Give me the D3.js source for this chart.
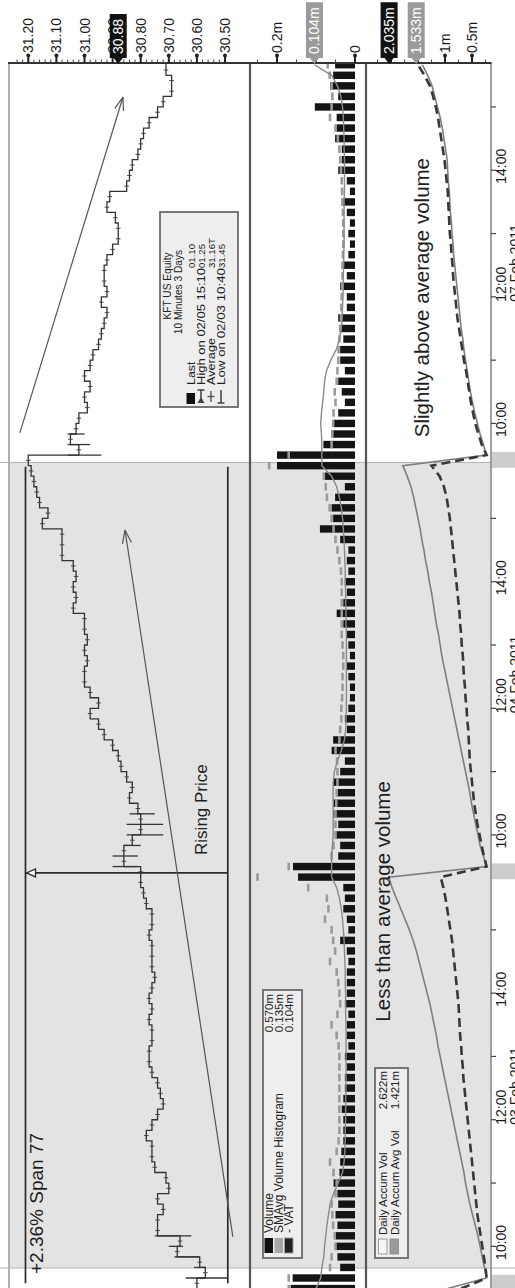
<!DOCTYPE html>
<html>
<head>
<meta charset="utf-8">
<script src="https://cdn.jsdelivr.net/npm/d3@7/dist/d3.min.js"></script>
<style>
html,body{margin:0;padding:0;background:#fff;}
svg{display:block;}
text{font-family:"Liberation Sans", Arial, sans-serif;}
</style>
</head>
<body>
<svg id="chart" width="515" height="1288"></svg>
<script>
// ================= DATA =================
const sessionDays = ["03 Feb 2011", "04 Feb 2011", "07 Feb 2011"];
const barsPerDay = 39;          // 10-minute bars 09:30-16:00
const firstBar = -1;            // first value = last bar of 02 Feb
const hourTicks = ["10:00","11:00","12:00","13:00","14:00","15:00"];
const hourLabels = ["10:00","14:00"];
const dateHour = "12:00";

const priceClose = [30.60,
 30.57,30.59,30.67,30.66,30.74,30.74,30.72,30.74,30.70,30.71,
 30.75,30.76,30.76,30.78,30.76,30.74,30.72,30.73,30.74,30.76,
 30.77,30.77,30.76,30.76,30.77,30.76,30.77,30.76,30.75,30.76,
 30.76,30.76,30.77,30.76,30.76,30.78,30.79,30.80,30.80,
 30.86,30.86,30.83,30.80,30.80,30.81,30.84,30.83,30.85,30.87,
 30.88,30.90,30.93,30.95,30.98,30.95,30.98,31.00,31.00,30.99,
 31.00,30.99,31.00,31.00,31.04,31.03,31.04,31.03,31.04,31.08,
 31.08,31.08,31.15,31.13,31.16,31.17,31.18,31.19,31.20,
 31.02,31.05,31.03,31.02,30.99,31.00,30.98,31.00,30.98,30.97,
 30.95,30.94,30.93,30.92,30.94,30.92,30.93,30.93,30.92,30.90,
 30.88,30.88,30.89,30.92,30.91,30.85,30.84,30.83,30.81,30.80,
 30.79,30.77,30.74,30.72,30.69,30.69,30.71,30.71];

// [bar, low, high] for bars with a wide range
const priceRanges = [[0,30.49,30.64],[1,30.57,30.61],[2,30.59,30.68],[3,30.65,30.70],[4,30.62,30.75],
 [39,30.81,30.90],[40,30.81,30.90],[41,30.80,30.86],[42,30.72,30.85],[43,30.72,30.85],[44,30.75,30.84],
 [78,30.94,31.06],[79,30.98,31.06],[80,31.00,31.06]];

const volume = [0.165,
 0.160,0.038,0.045,0.050,0.050,0.045,0.050,0.043,0.045,0.055,
 0.040,0.038,0.035,0.030,0.030,0.030,0.034,0.030,0.026,0.026,
 0.021,0.026,0.017,0.021,0.021,0.017,0.026,0.021,0.021,0.021,
 0.017,0.021,0.038,0.017,0.021,0.030,0.026,0.030,0.146,
 0.159,0.043,0.038,0.051,0.043,0.056,0.056,0.047,0.056,0.038,
 0.026,0.060,0.056,0.021,0.026,0.017,0.013,0.013,0.017,0.021,
 0.013,0.017,0.021,0.030,0.047,0.030,0.021,0.026,0.017,0.021,
 0.017,0.038,0.090,0.056,0.060,0.051,0.026,0.077,0.200,
 0.200,0.081,0.060,0.056,0.043,0.026,0.034,0.043,0.026,0.038,
 0.038,0.030,0.038,0.043,0.021,0.021,0.038,0.021,0.030,0.017,
 0.013,0.017,0.013,0.021,0.034,0.013,0.021,0.043,0.034,0.034,
 0.051,0.047,0.047,0.103,0.043,0.064,0.056,0.051];

const smaVolume = [0.170,
 0.170,0.064,0.060,0.050,0.052,0.056,0.058,0.060,0.050,0.047,
 0.055,0.064,0.047,0.042,0.040,0.040,0.040,0.040,0.040,0.040,
 0.040,0.040,0.042,0.047,0.060,0.045,0.038,0.040,0.043,0.047,
 0.064,0.051,0.056,0.060,0.077,0.068,0.072,0.120,0.250,
 0.170,0.060,0.055,0.050,0.050,0.050,0.048,0.047,0.045,0.045,
 0.046,0.050,0.040,0.038,0.035,0.035,0.033,0.032,0.032,0.030,
 0.030,0.032,0.034,0.034,0.034,0.034,0.034,0.034,0.036,0.040,
 0.045,0.050,0.055,0.060,0.065,0.072,0.075,0.080,0.220,
 0.170,0.060,0.058,0.056,0.055,0.050,0.052,0.047,0.045,0.043,
 0.042,0.040,0.038,0.036,0.035,0.034,0.033,0.032,0.032,0.031,
 0.030,0.030,0.030,0.031,0.032,0.033,0.034,0.036,0.038,0.040,
 0.044,0.050,0.064,0.060,0.058,0.060,0.065,0.070];

const vat = [0.100,
 0.088,0.085,0.080,0.078,0.075,0.072,0.068,0.064,0.055,0.043,
 0.032,0.028,0.026,0.025,0.025,0.024,0.024,0.024,0.023,0.023,
 0.023,0.023,0.023,0.023,0.023,0.024,0.024,0.024,0.025,0.025,
 0.026,0.027,0.028,0.030,0.032,0.035,0.040,0.047,0.060,
 0.060,0.060,0.058,0.056,0.056,0.056,0.056,0.056,0.056,0.053,
 0.045,0.035,0.027,0.024,0.023,0.022,0.022,0.022,0.022,0.022,
 0.022,0.022,0.022,0.023,0.023,0.024,0.024,0.025,0.025,0.026,
 0.027,0.028,0.030,0.032,0.035,0.040,0.047,0.060,0.085,
 0.085,0.085,0.086,0.088,0.086,0.083,0.080,0.078,0.073,0.062,
 0.048,0.040,0.035,0.033,0.032,0.031,0.030,0.030,0.029,0.029,
 0.028,0.028,0.028,0.028,0.028,0.027,0.027,0.027,0.027,0.028,
 0.028,0.029,0.030,0.032,0.036,0.045,0.060,0.104];

const accumAvg = [0.95,
 0.23,0.27,0.31,0.35,0.39,0.44,0.49,0.54,0.58,0.62,
 0.65,0.69,0.73,0.77,0.81,0.85,0.89,0.93,0.97,1.01,
 1.05,1.09,1.13,1.16,1.20,1.24,1.28,1.33,1.38,1.43,
 1.48,1.53,1.59,1.66,1.74,1.82,1.90,1.98,2.04,
 0.23,0.29,0.35,0.39,0.43,0.47,0.51,0.54,0.58,0.62,
 0.66,0.70,0.74,0.78,0.82,0.86,0.90,0.94,0.98,1.02,
 1.06,1.09,1.12,1.16,1.19,1.22,1.25,1.29,1.32,1.36,
 1.39,1.43,1.46,1.50,1.54,1.58,1.63,1.70,1.78,
 0.23,0.29,0.35,0.40,0.45,0.49,0.53,0.56,0.59,0.62,
 0.65,0.67,0.70,0.72,0.74,0.76,0.78,0.80,0.82,0.84,
 0.85,0.87,0.88,0.90,0.91,0.92,0.94,0.95,0.96,0.99,
 1.02,1.05,1.09,1.14,1.19,1.24,1.32,1.42];

const accumVol = [0.70,
 0.23,0.25,0.28,0.31,0.34,0.37,0.40,0.42,0.44,0.46,
 0.48,0.50,0.52,0.54,0.56,0.58,0.60,0.62,0.64,0.66,
 0.67,0.69,0.70,0.72,0.73,0.74,0.75,0.77,0.79,0.81,
 0.83,0.85,0.87,0.90,0.93,0.96,0.99,1.03,1.08,
 0.23,0.28,0.32,0.36,0.40,0.43,0.46,0.48,0.50,0.52,
 0.54,0.55,0.56,0.57,0.59,0.60,0.62,0.63,0.65,0.66,
 0.67,0.69,0.70,0.72,0.73,0.75,0.77,0.79,0.81,0.83,
 0.85,0.87,0.89,0.91,0.94,0.97,1.02,1.10,1.25,
 0.23,0.32,0.38,0.44,0.48,0.52,0.55,0.58,0.61,0.65,
 0.68,0.71,0.74,0.77,0.79,0.81,0.83,0.85,0.86,0.88,
 0.89,0.91,0.92,0.93,0.94,0.95,0.97,0.99,1.01,1.04,
 1.07,1.10,1.13,1.17,1.22,1.28,1.38,1.50];

const priceTicks = [31.20,31.10,31.00,30.90,30.80,30.70,30.60,30.50];
const volTicks = [0.2,0.1,0];
const volTickLabels = ["0.2m","0.1m","0"];
const accTicks = [2,1.5,1,0.5];
const accTickLabels = ["2m","1.5m","1m","0.5m"];
const priceMarkers = [[30.88,"30.88","#111"]];
const volMarkers = [[0.104,"0.104m","#9a9a9a"]];
const accMarkers = [[2.035,"2.035m","#111"],[1.533,"1.533m","#9a9a9a"]];

const highlightBars = [0.95, 77.3];
const spanPrices = [31.21, 30.49];
const spanBars = [-0.5, 76.9];
const spanAtBar = 38.4;
const spanLabel = "+2.36% Span 77";

const priceLegendTitle = ["KFT US Equity","10 Minutes 3 Days"];
const priceLegendRows = [["Last","01.10"],["High on 02/05 15:10","01.25"],["Average","31.16T"],["Low on 02/03 10:40","31.45"]];
const volLegendRows = [["Volume","0.570m"],["SMAvg Volume Histogram","0.135m"],["- VAT","0.104m"]];
const accLegendRows = [["Daily Accum Vol","2.622m"],["Daily Accum Avg Vol","1.421m"]];

// ================= CHART =================
const W = 1288, H = 515;
const svg = d3.select("#chart");
const defs = svg.append("defs");
svg.append("rect").attr("width",515).attr("height",1288).attr("fill","#fff");
const root = svg.append("g").attr("transform","translate(0,1288) rotate(-90)");

const x = d3.scaleLinear().domain([0,115]).range([10, 10 + 115*10.55]);
const bw = x(1) - x(0);
const plotRight = 1225;
const pY = d3.scaleLinear().domain([31.20,30.50]).range([28.3,225]);
const vY = d3.scaleLinear().domain([0,0.2]).range([355,277]);
const aY = d3.scaleLinear().domain([0,1]).range([499,445]);
const P = {top:10, pv:250, va:366, bottom:490};

function clip(id,y0,y1){
  defs.append("clipPath").attr("id",id).append("rect")
    .attr("x",0).attr("y",y0).attr("width",plotRight).attr("height",y1-y0);
}
clip("clipP",P.top,P.pv); clip("clipV",P.pv,P.va); clip("clipA",P.va,P.bottom);

const bars = priceClose.map((c,k)=>({i:k+firstBar, c, v:volume[k], s:smaVolume[k], t:vat[k], aa:accumAvg[k], av:accumVol[k]}));

// highlight band
root.append("rect").attr("x",x(highlightBars[0])).attr("y",P.top)
  .attr("width",x(highlightBars[1])-x(highlightBars[0])).attr("height",P.bottom-P.top).attr("fill","#e3e3e3");
highlightBars.forEach(b=>root.append("line").attr("x1",x(b)).attr("x2",x(b)).attr("y1",0).attr("y2",H)
  .attr("stroke","#b4b4b4").attr("stroke-width",1.2));

// day-start blocks on time strip
sessionDays.forEach((d,k)=>{
  const b = k*barsPerDay;
  root.append("rect").attr("x",x(b-1.2)).attr("y",P.bottom+1.5).attr("width",x(b+0.3)-x(b-1.2)).attr("height",H-P.bottom)
    .attr("fill","#cdcdcd");
});

// frame
const frame = root.append("g");
frame.append("line").attr("x1",0).attr("x2",plotRight).attr("y1",P.top-1).attr("y2",P.top-1).attr("stroke","#b0b0b0").attr("stroke-width",2);
frame.append("line").attr("x1",0).attr("x2",plotRight).attr("y1",P.pv).attr("y2",P.pv).attr("stroke","#555").attr("stroke-width",2.2);
frame.append("line").attr("x1",0).attr("x2",plotRight).attr("y1",P.va).attr("y2",P.va).attr("stroke","#555").attr("stroke-width",2.2);
frame.append("line").attr("x1",0).attr("x2",plotRight).attr("y1",P.bottom+1).attr("y2",P.bottom+1).attr("stroke","#888").attr("stroke-width",1.6);

// span tool
const span = root.append("g");
spanPrices.forEach(p=>span.append("line").attr("x1",x(spanBars[0])).attr("x2",x(spanBars[1]))
  .attr("y1",pY(p)).attr("y2",pY(p)).attr("stroke","#2a2a2a").attr("stroke-width",1.7));
span.append("line").attr("x1",x(spanAtBar)).attr("x2",x(spanAtBar)).attr("y1",pY(spanPrices[0])).attr("y2",pY(spanPrices[1]))
  .attr("stroke","#2a2a2a").attr("stroke-width",1.7);
{
  const xx = x(spanAtBar), yy = pY(spanPrices[0]);
  span.append("path").attr("d",`M${xx},${yy+1} L${xx-4},${yy+10} L${xx+4},${yy+10} Z`)
    .attr("fill","#fff").attr("stroke","#2a2a2a").attr("stroke-width",1.3);
}

// ---- price panel ----
const gp = root.append("g").attr("clip-path","url(#clipP)");
const stepLine = d3.line().x(d=>x(d.i)).y(d=>pY(d.c)).curve(d3.curveStepAfter);
const last = bars[bars.length-1];
gp.append("path").datum(bars.concat([{i:last.i+0.6, c:last.c}])).attr("d",stepLine)
  .attr("fill","none").attr("stroke","#333").attr("stroke-width",1.3);
gp.selectAll("line.tk").data(bars).join("line").attr("class","tk")
  .attr("x1",d=>x(d.i)+bw*0.5).attr("x2",d=>x(d.i)+bw*0.5)
  .attr("y1",d=>pY(d.c)-2.3).attr("y2",d=>pY(d.c)+2.3).attr("stroke","#444").attr("stroke-width",1);
gp.selectAll("line.rg").data(priceRanges).join("line").attr("class","rg")
  .attr("x1",d=>x(d[0])).attr("x2",d=>x(d[0])).attr("y1",d=>pY(d[1])).attr("y2",d=>pY(d[2]))
  .attr("stroke","#333").attr("stroke-width",1.3);

// ---- volume panel ----
const gv = root.append("g").attr("clip-path","url(#clipV)");
gv.selectAll("rect.vb").data(bars).join("rect").attr("class","vb")
  .attr("x",d=>x(d.i)-3.7).attr("width",7.4)
  .attr("y",d=>vY(d.v)).attr("height",d=>vY(0)-vY(d.v)).attr("fill","#141414");
gv.selectAll("line.sma").data(bars).join("line").attr("class","sma")
  .attr("x1",d=>x(d.i)-3.8).attr("x2",d=>x(d.i)+3.8).attr("y1",d=>vY(d.s)).attr("y2",d=>vY(d.s))
  .attr("stroke","#9a9a9a").attr("stroke-width",2.6);
gv.append("path").datum(bars).attr("d",d3.line().x(d=>x(d.i)).y(d=>vY(d.t)))
  .attr("fill","none").attr("stroke","#8a8a8a").attr("stroke-width",1.4);

// ---- accum panel ----
const ga = root.append("g").attr("clip-path","url(#clipA)");
ga.append("path").datum(bars).attr("d",d3.line().x(d=>x(d.i)).y(d=>aY(d.aa)))
  .attr("fill","none").attr("stroke","#7e7e7e").attr("stroke-width",1.6);
ga.append("path").datum(bars).attr("d",d3.line().x(d=>x(d.i)).y(d=>aY(d.av)))
  .attr("fill","none").attr("stroke","#383838").attr("stroke-width",2.6).attr("stroke-dasharray","9,5");

// ---- arrows ----
function arrow(i1,p1,i2,p2){
  const x1=x(i1), y1=pY(p1), x2=x(i2), y2=pY(p2);
  const a = Math.atan2(y2-y1,x2-x1), L=14, s=0.33;
  root.append("line").attr("x1",x1).attr("y1",y1).attr("x2",x2).attr("y2",y2).attr("stroke","#555").attr("stroke-width",1.2);
  [a+Math.PI-s, a+Math.PI+s].forEach(b=>root.append("line").attr("x1",x2).attr("y1",y2)
    .attr("x2",x2+L*Math.cos(b)).attr("y2",y2+L*Math.sin(b)).attr("stroke","#555").attr("stroke-width",1.2));
}
arrow(3.89,30.472,70.9,30.856);
arrow(80.1,31.23,111.94,30.863);

// ---- annotations ----
function note(txt,X,Y,size){
  root.append("text").attr("x",X).attr("y",Y).attr("font-size",size).attr("fill","#1e1e1e").text(txt);
}
note(spanLabel, x(0.38), pY(31.148), 19);
note("Rising Price", x(40.1), pY(30.563), 17);
note("Less than average volume", x(24.3), aY(2.02), 20.5);
note("Slightly above average volume", x(79.7), aY(1.30), 20.5);

// ---- legends ----
function box(X0,Y0,X1,Y1){
  root.append("rect").attr("x",X0).attr("y",Y0).attr("width",X1-X0).attr("height",Y1-Y0)
    .attr("fill","#eeeeee").attr("stroke","#6a6a6a").attr("stroke-width",1.8);
}
// price legend
box(881,160,1076,238);
priceLegendTitle.forEach((t,k)=>root.append("text").attr("x",[1002,996][k]).attr("y",[171,182][k])
  .attr("text-anchor","middle").attr("font-size",10.2).attr("fill","#222").text(t));
const plY = [194.5,204.5,214.5,224.5];
const plLen = [23.5,117,47,117];
priceLegendRows.forEach((r,k)=>{
  root.append("text").attr("x",903).attr("y",plY[k]).attr("font-size",10.6).attr("fill","#222")
    .attr("textLength",plLen[k]).attr("lengthAdjust","spacingAndGlyphs").text(r[0]);
  root.append("text").attr("x",1020).attr("y",plY[k]).attr("font-size",9.6).attr("fill","#222").text(r[1]);
});
root.append("rect").attr("x",884).attr("y",186.5).attr("width",11).attr("height",8.5).attr("fill","#111");
root.append("line").attr("x1",885).attr("x2",898).attr("y1",201).attr("y2",201).attr("stroke","#333").attr("stroke-width",1.4);
root.append("path").attr("d","M885,197.5 L891,201 L885,204.5 Z").attr("fill","#444");
root.append("line").attr("x1",898).attr("x2",898).attr("y1",197.5).attr("y2",204.5).attr("stroke","#333").attr("stroke-width",1.4);
root.append("line").attr("x1",886).attr("x2",897).attr("y1",211).attr("y2",211).attr("stroke","#555").attr("stroke-width",1.4);
root.append("line").attr("x1",891.5).attr("x2",891.5).attr("y1",207.5).attr("y2",214.5).attr("stroke","#555").attr("stroke-width",1.4);
root.append("line").attr("x1",885).attr("x2",898).attr("y1",221).attr("y2",221).attr("stroke","#333").attr("stroke-width",1.4);
root.append("line").attr("x1",885).attr("x2",885).attr("y1",217.5).attr("y2",224.5).attr("stroke","#333").attr("stroke-width",1.4);

// volume legend
box(30,263,298,302);
const vlY = [273,283,293];
const vlIcon = ["#111","#a8a8a8","#222"];
volLegendRows.forEach((r,k)=>{
  root.append("rect").attr("x",35).attr("y",vlY[k]-8.5).attr("width",15).attr("height",8.5).attr("fill",vlIcon[k])
    .attr("stroke",k===2?"#999":"none");
  root.append("text").attr("x",55).attr("y",vlY[k]).attr("font-size",12).attr("fill","#222").text(r[0]);
  root.append("text").attr("x",294).attr("y",vlY[k]).attr("text-anchor","end").attr("font-size",11.5).attr("fill","#222").text(r[1]);
});
// accum legend
box(30,375,220,408);
const alY = [387,398.5];
const alIcon = ["#f6f6f6","#9a9a9a"];
accLegendRows.forEach((r,k)=>{
  root.append("rect").attr("x",34).attr("y",alY[k]-8.5).attr("width",15).attr("height",8.5).attr("fill",alIcon[k])
    .attr("stroke","#888").attr("stroke-width",0.8);
  root.append("text").attr("x",53).attr("y",alY[k]).attr("font-size",11.5).attr("fill","#222").text(r[0]);
  root.append("text").attr("x",217).attr("y",alY[k]).attr("text-anchor","end").attr("font-size",11.5).attr("fill","#222").text(r[1]);
});

// ---- value axis (original right side) ----
const ax = root.append("g");
ax.append("line").attr("x1",plotRight).attr("x2",plotRight).attr("y1",P.top-2).attr("y2",P.bottom+1.5)
  .attr("stroke","#333").attr("stroke-width",2);
function minor(vals, scale){
  vals.forEach(v=>ax.append("line").attr("x1",plotRight).attr("x2",plotRight+3.5).attr("y1",scale(v)).attr("y2",scale(v))
    .attr("stroke","#444").attr("stroke-width",1));
}
function major(vals, labels, scale){
  vals.forEach((v,k)=>{
    const yy = scale(v);
    ax.append("line").attr("x1",plotRight).attr("x2",plotRight+7).attr("y1",yy).attr("y2",yy).attr("stroke","#222").attr("stroke-width",2);
    ax.append("circle").attr("cx",plotRight+7.5).attr("cy",yy).attr("r",2).attr("fill","#222");
    ax.append("text").attr("x",plotRight+10).attr("y",yy).attr("dy","0.36em").attr("font-size",14).attr("fill","#1a1a1a").text(labels[k]);
  });
}
minor(d3.range(30.50,31.25,0.02).filter(v=>pY(v)>P.top+2&&pY(v)<P.pv-2), pY);
minor([0.25,0.15,0.05], vY);
minor([2.25,1.75,1.25,0.75,0.25], aY);
major(priceTicks, priceTicks.map(d=>d.toFixed(2)), pY);
major(volTicks, volTickLabels, vY);
major(accTicks, accTickLabels, aY);

function valueMarker(v,label,fill,scale){
  const yy = scale(v);
  const g = ax.append("g");
  const t = g.append("text").attr("x",plotRight+9).attr("y",yy).attr("dy","0.36em").attr("font-size",14)
    .attr("fill","#fff").text(label);
  const w = t.node().getComputedTextLength();
  const x0 = plotRight+5, x1 = plotRight+9+w+5, h=8.5;
  g.insert("path","text").attr("d",`M${plotRight-1},${yy} L${x0},${yy-4.5} L${x0},${yy-h} L${x1},${yy-h} L${x1},${yy+h} L${x0},${yy+h} L${x0},${yy+4.5} Z`)
    .attr("fill",fill);
}
priceMarkers.forEach(m=>valueMarker(m[0],m[1],m[2],pY));
volMarkers.forEach(m=>valueMarker(m[0],m[1],m[2],vY));
accMarkers.forEach(m=>valueMarker(m[0],m[1],m[2],aY));

// ---- time axis (original bottom) ----
const tx = root.append("g");
function hourIndex(day,h){ const [hh,mm]=h.split(":").map(Number); return day*barsPerDay + (hh*60+mm-570)/10; }
sessionDays.forEach((d,k)=>{
  hourTicks.forEach(h=>{
    const xx = x(hourIndex(k,h));
    if (xx>plotRight) return;
    tx.append("line").attr("x1",xx).attr("x2",xx).attr("y1",P.bottom+1).attr("y2",P.bottom+6).attr("stroke","#444").attr("stroke-width",1.2);
  });
  hourLabels.forEach(h=>{
    const xx = x(hourIndex(k,h));
    tx.append("text").attr("x",xx+4).attr("y",506).attr("text-anchor","middle").attr("font-size",14).attr("fill","#1a1a1a").text(h);
  });
  const xd = x(hourIndex(k,dateHour)) - 5;
  tx.append("text").attr("x",xd).attr("y",506).attr("font-size",14).attr("fill","#1a1a1a").text(dateHour);
  tx.append("text").attr("x",xd).attr("y",519.5).attr("font-size",14).attr("fill","#1a1a1a").text(d);
});
</script>
</body>
</html>
